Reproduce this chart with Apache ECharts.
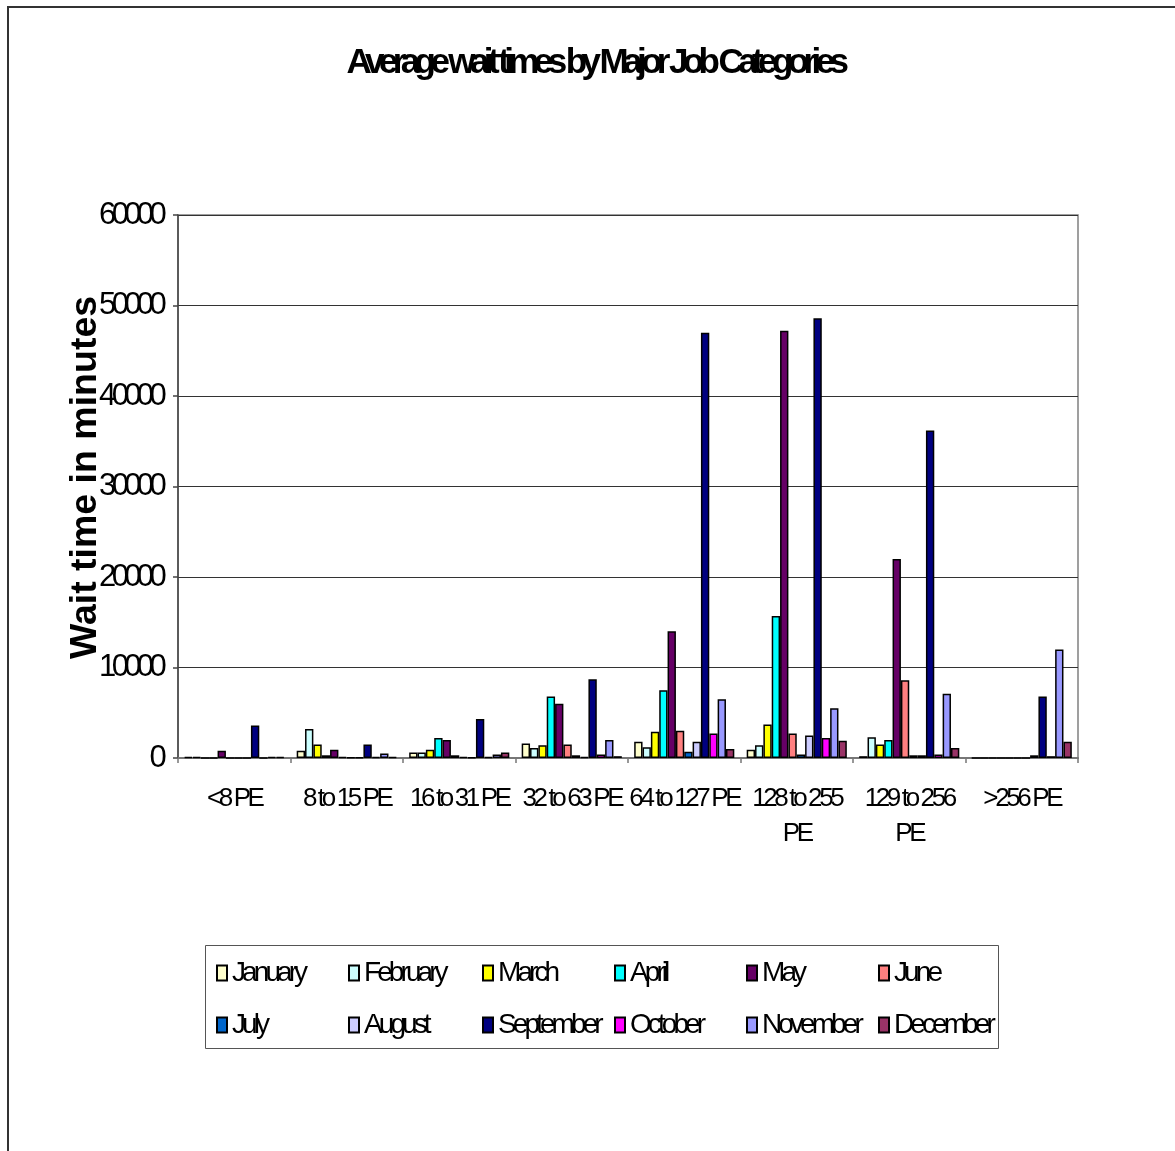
<!DOCTYPE html>
<html>
<head>
<meta charset="utf-8">
<script src="https://cdn.jsdelivr.net/npm/echarts@6/dist/echarts.min.js"></script>
<style>
html,body{margin:0;padding:0;background:#fff;}
#chart{width:1175px;height:1151px;}
</style>
</head>
<body>
<div id="chart"></div>
<script>
var categories = ['<8 PE', '8 to 15 PE', '16 to 31 PE', '32 to 63 PE', '64 to 127 PE', '128 to 255 PE', '129 to 256 PE', '>256 PE'];
var months = ['January','February','March','April','May','June','July','August','September','October','November','December'];
var january   = [100, 800, 600, 1600, 1800, 900, 200, 0];
var february  = [100, 3200, 600, 1100, 1200, 1400, 2300, 0];
var march     = [0, 1500, 900, 1400, 2900, 3700, 1500, 0];
var april     = [0, 300, 2200, 6800, 7500, 15700, 2000, 0];
var may       = [800, 900, 2000, 6000, 14000, 47200, 22000, 0];
var june      = [0, 100, 300, 1500, 3000, 2700, 8600, 0];
var july      = [0, 50, 100, 300, 700, 400, 300, 0];
var august    = [0, 50, 50, 100, 1800, 2500, 300, 300];
var september = [3600, 1500, 4300, 8700, 47000, 48600, 36200, 6800];
var october   = [0, 100, 100, 400, 2700, 2200, 400, 200];
var november  = [100, 500, 400, 2000, 6500, 5500, 7100, 12000];
var december  = [100, 100, 600, 200, 1000, 1900, 1100, 1800];
var yTicks = [0, 10000, 20000, 30000, 40000, 50000, 60000];

var seriesValues = [january, february, march, april, may, june, july, august, september, october, november, december];
var colors = ['#FFFFCC','#CCFFFF','#FFFF00','#00FFFF','#660066','#FF8080','#0066CC','#CCCCFF','#000080','#FF00FF','#9999FF','#993366'];

// Tight letter spacing (the reference text is printed with very tight tracking).
// A family name like 'sq12' (not installed, falls back) marks text to draw with -0.12em tracking.
(function () {
  var proto = CanvasRenderingContext2D.prototype;
  var desc = Object.getOwnPropertyDescriptor(proto, 'font');
  if (!desc || !('letterSpacing' in proto)) return;
  Object.defineProperty(proto, 'font', {
    configurable: true,
    get: function () { return desc.get.call(this); },
    set: function (v) {
      desc.set.call(this, v);
      var m = /sq(\d+)/.exec(v), s = /(\d+(?:\.\d+)?)px/.exec(v);
      if (m && s) {
        this.letterSpacing = (-parseFloat(s[1]) * parseInt(m[1], 10) / 100).toFixed(2) + 'px';
      } else {
        this.letterSpacing = '0px';
      }
    }
  });
})();
function fam(k) { return "'sq" + k + "', 'Liberation Sans', Arial, sans-serif"; }

var chart = echarts.init(document.getElementById('chart'), null, {renderer: 'canvas'});
var series = months.map(function (m, i) {
  return {
    name: m,
    type: 'bar',
    data: seriesValues[i],
    barGap: '0%',
    barCategoryGap: '11%',
    itemStyle: {color: colors[i], borderColor: '#000', borderWidth: 1.5},
    emphasis: {disabled: true},
    animation: false
  };
});

var legendCols = [216, 348, 482, 614, 746, 878];
var legends = legendCols.map(function (x, c) {
  return {
    orient: 'vertical',
    left: x, top: 958,
    padding: 0,
    itemWidth: 10, itemHeight: 15, itemGap: 22,
    icon: 'rect',
    selectedMode: false,
    data: [months[c], months[c + 6]],
    textStyle: {fontFamily: fam(14), fontSize: 28, color: '#000', lineHeight: 30}
  };
});

chart.setOption({
  backgroundColor: '#fff',
  animation: false,
  title: {
    text: 'Average wait times by Major Job Categories',
    left: 590,
    textAlign: 'center',
    top: 44,
    textStyle: {fontFamily: fam(16), fontWeight: 'bold', fontSize: 35, color: '#000'}
  },
  grid: {left: 178, top: 215, width: 900, height: 543, show: true, borderColor: '#808080', borderWidth: 1.5, backgroundColor: 'transparent'},
  legend: legends,
  xAxis: {
    type: 'category',
    data: categories,
    axisLine: {lineStyle: {color: '#777', width: 2}},
    axisTick: {show: true, length: 5, lineStyle: {color: '#777', width: 1.5}},
    axisLabel: {
      fontFamily: fam(13), fontSize: 26, color: '#000', margin: 23, lineHeight: 35,
      interval: 0,
      formatter: function (v) { return v.replace(/^(1\d\d to \d+) /, '$1\n'); }
    },
    splitLine: {show: false}
  },
  yAxis: {
    type: 'value',
    min: yTicks[0], max: yTicks[yTicks.length - 1], interval: 10000,
    name: 'Wait time in minutes',
    nameLocation: 'middle',
    nameGap: 73,
    nameMoveOverlap: false,
    nameTextStyle: {fontFamily: "'Liberation Sans', Arial, sans-serif", fontWeight: 'bold', fontSize: 37.5, color: '#000', padding: [0, 0, 0, 18]},
    axisLine: {show: true, lineStyle: {color: '#444', width: 1.5}},
    axisTick: {show: true, length: 5, lineStyle: {color: '#444', width: 1.5}},
    axisLabel: {fontFamily: fam(15), fontSize: 31, color: '#000', margin: 16, formatter: function (v) { return String(v); }},
    splitLine: {lineStyle: {color: '#333', width: 1}}
  },
  graphic: [{
    type: 'rect', silent: true,
    shape: {x: 8, y: 7, width: 1300, height: 1300},
    style: {fill: 'none', stroke: '#333', lineWidth: 2}
  }, {
    type: 'rect', silent: true,
    shape: {x: 205.5, y: 945.5, width: 793, height: 103},
    style: {fill: 'none', stroke: '#555', lineWidth: 1}
  }],
  series: series
});
</script>
</body>
</html>
